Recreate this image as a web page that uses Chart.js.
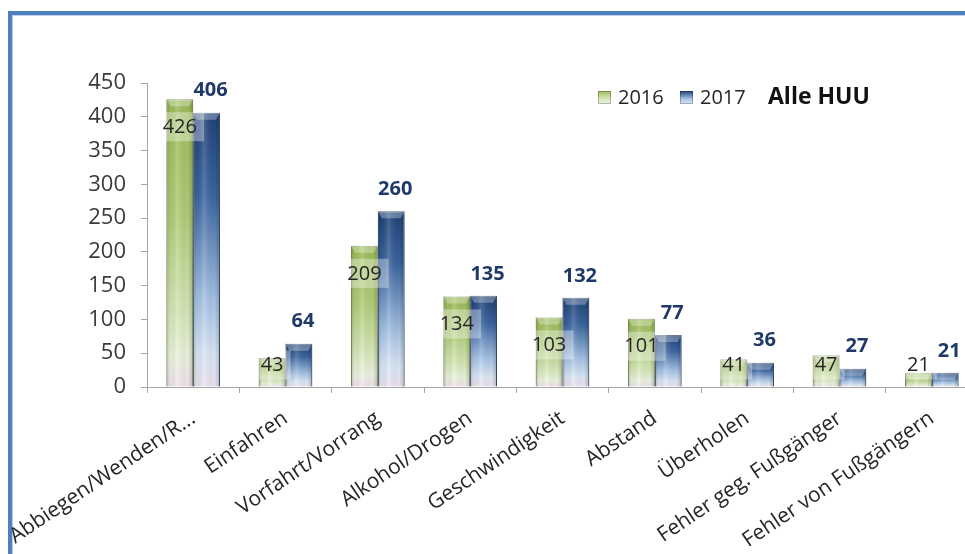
<!DOCTYPE html>
<html>
<head>
<meta charset="utf-8">
<script src="https://cdn.jsdelivr.net/npm/chart.js@4"></script>
<style>
  html, body { margin: 0; padding: 0; background: #ffffff; overflow: hidden; }
  #wrap { position: relative; width: 965px; height: 554px; overflow: hidden; background: #fff; }
  #frame { position: absolute; left: 8px; top: 11px; width: 1000px; height: 600px;
           border-left: 4px solid #4f7fbe; border-top: 4px solid #4f7fbe; box-sizing: border-box; }
  #frame2 { position: absolute; left: 12px; top: 15px; width: 1000px; height: 600px;
           border-left: 1px solid #bcd0ea; border-top: 1px solid #bcd0ea; box-sizing: border-box; }
  canvas { position: absolute; left: 0; top: 0; }
</style>
</head>
<body>
<div id="wrap">
  <div id="frame"></div>
  <div id="frame2"></div>
  <canvas id="c" width="978" height="554" style="width:978px;height:554px"></canvas>
</div>
<script>
const categories = ['Abbiegen/Wenden/R...', 'Einfahren', 'Vorfahrt/Vorrang', 'Alkohol/Drogen',
  'Geschwindigkeit', 'Abstand', 'Überholen', 'Fehler geg. Fußgänger', 'Fehler von Fußgängern'];
const values2016 = [426, 43, 209, 134, 103, 101, 41, 47, 21];
const values2017 = [406, 64, 260, 135, 132, 77, 36, 27, 21];
const seriesLabels = ['2016', '2017'];
const chartTitle = 'Alle HUU';
const yTicks = [0, 50, 100, 150, 200, 250, 300, 350, 400, 450];

const FONT = '"Open Sans", "Liberation Sans", sans-serif';
const greenStops = [[0, '#9bbc57'], [0.4, '#b0cd78'], [0.74, '#d6e8b8'], [0.9, '#ecf4df'], [1, '#f3e3ef']];
const blueStops  = [[0, '#1f4277'], [0.3, '#3a65a0'], [0.68, '#a5c2e5'], [0.88, '#dae7f6'], [1, '#efe3f1']];

function barGradient(stops) {
  return function (ctx) {
    const chart = ctx.chart;
    if (!chart.chartArea || ctx.type !== 'data') return stops[1][1];
    const ys = chart.scales.y;
    const top = ys.getPixelForValue(ctx.raw);
    const base = ys.getPixelForValue(0);
    if (!isFinite(top) || base - top < 1) return stops[1][1];
    const g = chart.ctx.createLinearGradient(0, top, 0, base);
    stops.forEach(s => g.addColorStop(s[0], s[1]));
    return g;
  };
}

const shadingPlugin = {
  id: 'shading',
  afterDatasetsDraw(chart) {
    const c = chart.ctx;
    chart.data.datasets.forEach((ds, di) => {
      chart.getDatasetMeta(di).data.forEach(bar => {
        const w = bar.width, L = bar.x - w / 2, R = bar.x + w / 2, T = bar.y, B = bar.base;
        const h = B - T;
        c.save();
        const hg = c.createLinearGradient(L, 0, R, 0);
        hg.addColorStop(0, 'rgba(0,0,0,0.20)');
        hg.addColorStop(0.14, 'rgba(0,0,0,0.04)');
        hg.addColorStop(0.4, 'rgba(255,255,255,0.16)');
        hg.addColorStop(0.8, 'rgba(0,0,0,0.02)');
        hg.addColorStop(1, 'rgba(0,0,0,0.22)');
        c.fillStyle = hg;
        c.fillRect(L, T, w, h);
        const bh = Math.min(7, h / 2);
        c.beginPath();
        c.moveTo(L, T); c.lineTo(R, T); c.lineTo(R - 4, T + bh); c.lineTo(L + 4, T + bh); c.closePath();
        c.fillStyle = 'rgba(255,255,255,0.3)';
        c.fill();
        c.restore();
      });
    });
  }
};

const labelPlugin = {
  id: 'labels',
  afterDraw(chart) {
    const c = chart.ctx;
    const m0 = chart.getDatasetMeta(0);
    c.save();
    c.font = '20px ' + FONT;
    c.textAlign = 'center';
    c.textBaseline = 'middle';
    m0.data.forEach((bar, i) => {
      const txt = String(values2016[i]);
      const y = Math.min(bar.y + 27, bar.base - 22);
      const tw = c.measureText(txt).width;
      c.fillStyle = 'rgba(255,255,255,0.35)';
      c.fillRect(bar.x - tw / 2 - 2, y - 14, tw + 9, 29);
      c.fillStyle = '#262626';
      c.fillText(txt, bar.x, y + 1);
    });
    const m1 = chart.getDatasetMeta(1);
    c.font = 'bold 20px ' + FONT;
    c.fillStyle = '#1f3a68';
    m1.data.forEach((bar, i) => {
      c.fillText(String(values2017[i]), bar.x + 4, bar.y - 22);
    });
    const items = [[greenStops, seriesLabels[0], 598], [blueStops, seriesLabels[1], 680]];
    c.textAlign = 'left';
    items.forEach(([stops, lbl, x]) => {
      const g = c.createLinearGradient(0, 91, 0, 104);
      g.addColorStop(0, stops[0][1]); g.addColorStop(0.6, stops[2][1]); g.addColorStop(1, stops[3][1]);
      c.fillStyle = g;
      c.fillRect(x, 91, 13, 13);
      c.strokeStyle = 'rgba(0,0,0,0.25)';
      c.lineWidth = 1;
      c.strokeRect(x + 0.5, 91.5, 12, 12);
      c.font = '20px ' + FONT;
      c.fillStyle = '#262626';
      c.fillText(lbl, x + 20, 98);
    });
    c.font = 'bold 23px ' + FONT;
    c.fillStyle = '#111';
    c.fillText(chartTitle, 768, 97);
    c.restore();
  }
};

new Chart(document.getElementById('c'), {
  type: 'bar',
  data: {
    labels: categories,
    datasets: [
      { label: seriesLabels[0], data: values2016, backgroundColor: barGradient(greenStops),
        borderColor: '#7f9a52', borderWidth: 1, barPercentage: 1, categoryPercentage: 0.58 },
      { label: seriesLabels[1], data: values2017, backgroundColor: barGradient(blueStops),
        borderColor: '#27456f', borderWidth: 1, barPercentage: 1, categoryPercentage: 0.58 }
    ]
  },
  options: {
    responsive: false,
    devicePixelRatio: 1,
    animation: false,
    layout: { padding: { top: 83, left: 0, right: 0, bottom: 0 } },
    plugins: { legend: { display: false }, title: { display: false }, tooltip: { enabled: false } },
    scales: {
      y: {
        min: 0, max: 450,
        afterBuildTicks(scale) { scale.ticks = yTicks.map(v => ({ value: v })); },
        afterFit(scale) { scale.width = 147; scale.paddingTop = 0; scale.paddingBottom = 0; },
        grid: { drawOnChartArea: false, drawTicks: true, tickLength: 6, color: '#a6a6a6' },
        border: { color: '#a6a6a6', width: 1 },
        ticks: { padding: 15, color: '#3a3a3a', font: { family: FONT, size: 22 } }
      },
      x: {
        afterFit(scale) { scale.height = 554 - 387; scale.paddingLeft = 0; scale.paddingRight = 0; },
        grid: { drawOnChartArea: false, drawTicks: true, tickLength: 6, offset: true, color: '#a6a6a6' },
        border: { color: '#a6a6a6', width: 1 },
        ticks: { minRotation: 34, maxRotation: 34, autoSkip: false, padding: 13,
                 color: '#262626', font: { family: FONT, size: 21 } }
      }
    }
  },
  plugins: [shadingPlugin, labelPlugin]
});
</script>
</body>
</html>
